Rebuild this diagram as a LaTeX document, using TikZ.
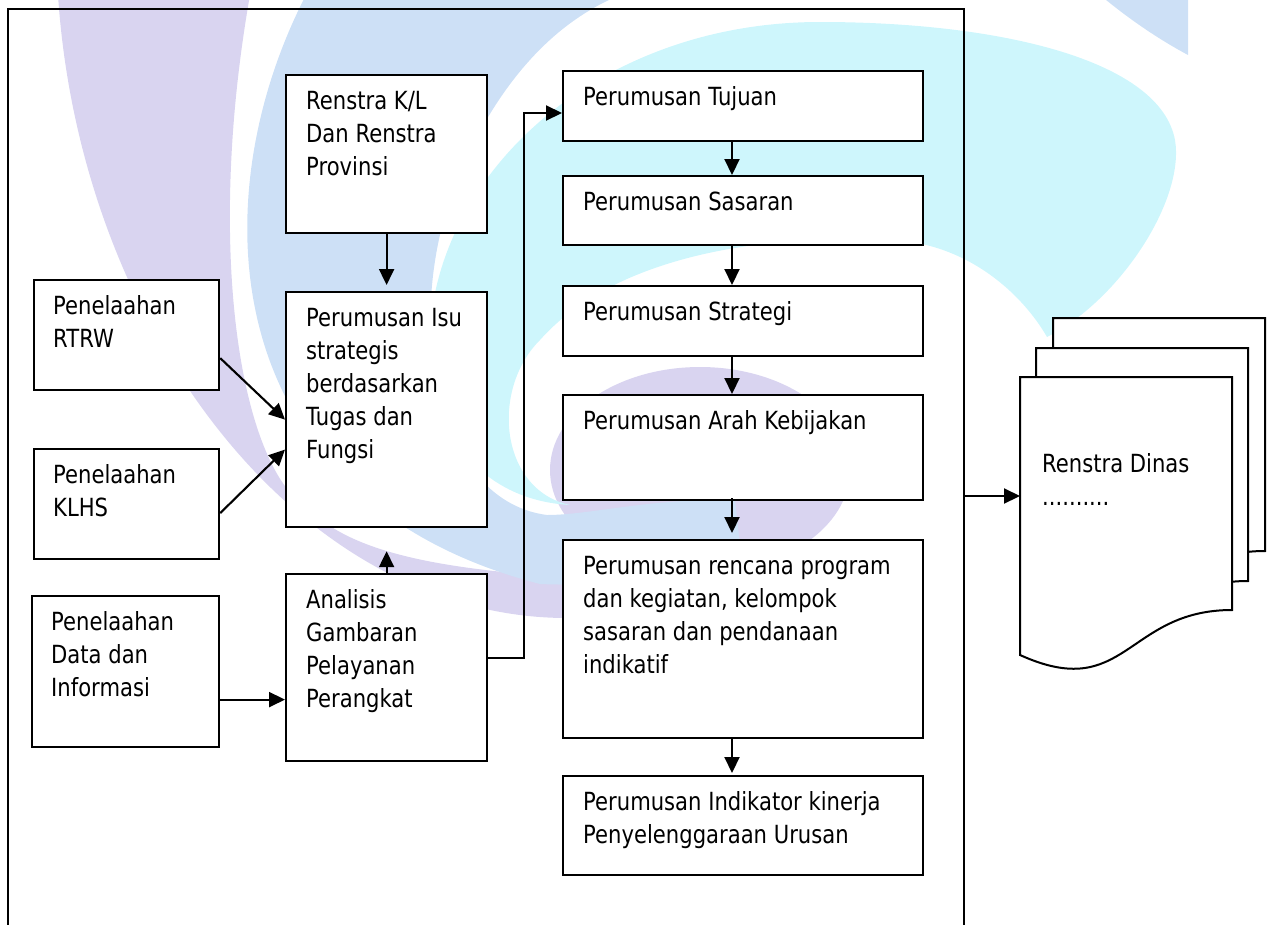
\documentclass[tikz,border=0pt]{standalone}
\usepackage{fontspec}
\setmainfont{DejaVu Sans}[FakeStretch=0.845]
\usetikzlibrary{arrows.meta,calc}
\definecolor{wlav}{RGB}{217,212,240}
\definecolor{wblu}{RGB}{205,224,246}
\definecolor{wcya}{RGB}{206,246,252}
\newcommand\pbox[5]{\node[box, anchor=north west, minimum width={(#4)-(#2)}, minimum height={(#5)-(#3)}] (#1) at (#2,#3) {};}
\begin{document}
\begin{tikzpicture}[x=1pt,y=-1pt,
  box/.style={draw=black, fill=white, line width=2.2pt, inner sep=0pt, rectangle},
  txt/.style={anchor=north west, inner sep=0pt, align=left, font=\fontsize{25}{33}\selectfont},
  arr/.style={line width=2.1pt, line join=miter, -{Triangle[length=16pt,width=15pt]}},
  page/.style={draw=black, fill=white, line width=2pt, line join=miter}]
\useasboundingbox (0,0) rectangle (1272,924);
\clip (0,0) rectangle (1272,924);
% watermark
\fill[wlav] (58,-5) .. controls (80,330) and (300,620) .. (570,618) -- (570,578)
  .. controls (470,570) and (360,560) .. (310,510)
  .. controls (240,470) and (205,250) .. (250,-5) -- cycle;
\fill[wlav] (700,470) ellipse[x radius=150, y radius=103];
\fill[wblu] (306,-5) .. controls (200,200) and (215,500) .. (540,584)
  .. controls (640,588) and (700,570) .. (740,545) -- (735,500)
  .. controls (650,498) and (590,515) .. (547,515)
  .. controls (430,500) and (395,300) .. (470,150)
  .. controls (510,70) and (560,20) .. (620,-5) -- cycle;
\fill[wcya] (1047,337) .. controls (1120,300) and (1185,200) .. (1175,140)
  .. controls (1160,60) and (1000,22) .. (820,22)
  .. controls (600,22) and (440,170) .. (430,330)
  .. controls (425,430) and (480,500) .. (570,505)
  .. controls (500,490) and (490,390) .. (540,340)
  .. controls (620,250) and (780,235) .. (880,240)
  .. controls (960,238) and (1020,290) .. (1047,337) -- cycle;
\fill[wblu] (1100,-5) .. controls (1130,20) and (1160,40) .. (1188,55) -- (1188,-5) -- cycle;
% frame
\node[draw=black, line width=1.9pt, inner sep=0pt, anchor=north west, minimum width=956pt, minimum height=940pt] (frame) at (7,8) {};
% boxes
\pbox{nren}{285}{74}{486}{232}
\pbox{nisu}{285}{291}{486}{526}
\pbox{nrtrw}{33}{279}{218}{389}
\pbox{nklhs}{33}{448}{218}{558}
\pbox{ndata}{31}{595}{218}{746}
\pbox{nana}{285}{573}{486}{760}
\pbox{ntuj}{562}{70}{922}{140}
\pbox{nsas}{562}{175}{922}{244}
\pbox{nstr}{562}{285}{922}{355}
\pbox{narah}{562}{394}{922}{499}
\pbox{nprog}{562}{539}{922}{737}
\pbox{nind}{562}{775}{922}{874}
% texts
\node[txt] (tren) at ($(nren.north west)+(21,12)$) {\strut Renstra K/L\\Dan Renstra\\Provinsi};
\node[txt] (tisu) at ($(nisu.north west)+(21,12)$) {\strut Perumusan Isu\\strategis\\berdasarkan\\Tugas dan\\Fungsi};
\node[txt] (trtrw) at ($(nrtrw.north west)+(20,12)$) {\strut Penelaahan\\RTRW};
\node[txt] (tklhs) at ($(nklhs.north west)+(20,12)$) {\strut Penelaahan\\KLHS};
\node[txt] (tdata) at ($(ndata.north west)+(20,12)$) {\strut Penelaahan\\Data dan\\Informasi};
\node[txt] (tana) at ($(nana.north west)+(21,12)$) {\strut Analisis\\Gambaran\\Pelayanan\\Perangkat};
\node[txt] (ttuj) at ($(ntuj.north west)+(21,12)$) {\strut Perumusan Tujuan};
\node[txt] (tsas) at ($(nsas.north west)+(21,12)$) {\strut Perumusan Sasaran};
\node[txt] (tstr) at ($(nstr.north west)+(21,12)$) {\strut Perumusan Strategi};
\node[txt] (tarah) at ($(narah.north west)+(21,12)$) {\strut Perumusan Arah Kebijakan};
\node[txt] (tprog) at ($(nprog.north west)+(21,12)$) {\strut Perumusan rencana program\\dan kegiatan, kelompok\\sasaran dan pendanaan\\indikatif};
\node[txt] (tind) at ($(nind.north west)+(21,12)$) {\strut Perumusan Indikator kinerja\\Penyelenggaraan Urusan};
% document stack
\path[page] (1053,318) -- (1265,318) -- (1265,551) .. controls (1159,551) and (1159,644) .. (1053,596) -- cycle;
\path[page] (1036,348) -- (1248,348) -- (1248,581) .. controls (1142,581) and (1142,674) .. (1036,626) -- cycle;
\path[page] (1020,377) -- (1232,377) -- (1232,610) .. controls (1126,610) and (1126,703) .. (1020,655) -- cycle;
\node[txt] (tdoc) at (1042,449) {\strut Renstra Dinas\\..........};
\coordinate (docin) at (1020,496);
% connectors
\coordinate (colx) at (732,0);
\coordinate (bend) at (524,113);
\coordinate (d1) at ($(ndata.east)+(0,28)$);
\draw[arr] (nren.south) -- ($(nisu.north)+(0,-6)$);
\draw[arr] ($(nrtrw.east)+(0,23)$) -- ($(nisu.west)+(0,10)$);
\draw[arr] ($(nklhs.east)+(0,9)$) -- ($(nisu.west)+(0,40)$);
\draw[arr] (d1) -- (d1 -| nana.west);
\draw[arr] (nana.north) -- ($(nisu.south)+(0,23)$);
\draw[arr] ($(nana.east)+(0,-10)$) -| (bend) -- (ntuj.west |- bend);
\draw[arr] (ntuj.south -| colx) -- (nsas.north -| colx);
\draw[arr] (nsas.south -| colx) -- (nstr.north -| colx);
\draw[arr] (nstr.south -| colx) -- (narah.north -| colx);
\draw[arr] ($(narah.south -| colx)+(0,-3)$) -- ($(nprog.north -| colx)+(0,-6)$);
\draw[arr] (nprog.south -| colx) -- ($(nind.north -| colx)+(0,-2)$);
\draw[arr] (frame.east |- docin) -- (docin);
\end{tikzpicture}
\end{document}
